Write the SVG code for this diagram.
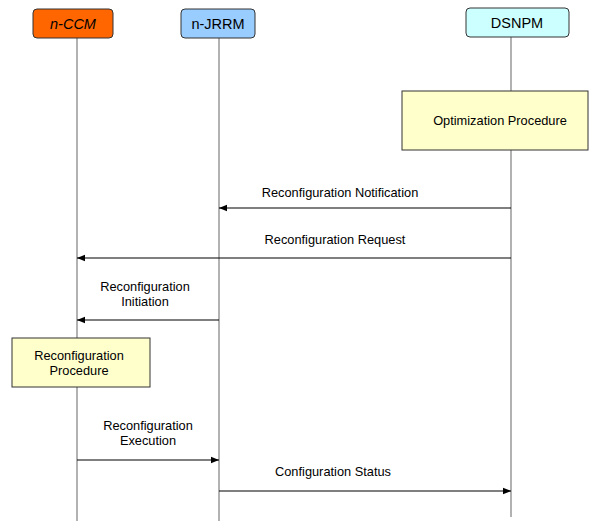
<svg xmlns="http://www.w3.org/2000/svg" width="589" height="521" viewBox="0 0 589 521">
  <style>
    .life { stroke: #7f7f7f; stroke-width: 1.2; fill: none; }
    .head { stroke: #333; stroke-width: 1; }
    .proc { fill: #ffffcc; stroke: #333; stroke-width: 1; }
    .msg { stroke: #000; stroke-width: 1.2; fill: none; }
    text { font-family: "Liberation Sans", Arial, sans-serif; fill: #000; }
    .hl { font-size: 14.5px; text-anchor: middle; }
    .lb { font-size: 12.8px; text-anchor: middle; }
  </style>
  <defs>
    <marker id="arr" viewBox="0 0 8 8" refX="8" refY="4" markerWidth="8" markerHeight="8" markerUnits="userSpaceOnUse" orient="auto">
      <path d="M0,0.8 L8,4 L0,7.2 Z" fill="#000"/>
    </marker>
  </defs>

  <!-- lifelines -->
  <g id="lifelines">
    <line class="life" x1="77" y1="38" x2="77" y2="521"/>
    <line class="life" x1="219" y1="38" x2="219" y2="521"/>
    <line class="life" x1="511" y1="37" x2="511" y2="517"/>
  </g>

  <g id="n-CCM">
    <rect class="head" x="33" y="9" width="80" height="29" rx="4" fill="#ff6600"/>
    <text class="hl" x="73" y="29" font-style="italic">n-CCM</text>
  </g>
  <g id="n-JRRM">
    <rect class="head" x="181" y="9" width="74" height="29" rx="4" fill="#99ccff"/>
    <text class="hl" x="218" y="29">n-JRRM</text>
  </g>
  <g id="DSNPM">
    <rect class="head" x="466" y="8" width="103" height="29" rx="4" fill="#ccffff"/>
    <text class="hl" x="517" y="28">DSNPM</text>
  </g>

  <g id="optimization">
    <rect class="proc" x="402" y="91" width="186" height="59"/>
    <text class="lb" x="500" y="125">Optimization Procedure</text>
  </g>
  <g id="reconfig-procedure">
    <rect class="proc" x="12" y="338" width="138" height="49"/>
    <text class="lb" x="79" y="360">Reconfiguration</text>
    <text class="lb" x="79" y="375">Procedure</text>
  </g>

  <!-- messages -->
  <g id="connectors">
    <line class="msg" x1="511" y1="208" x2="219" y2="208" marker-end="url(#arr)"/>
    <line class="msg" x1="511" y1="258" x2="77" y2="258" marker-end="url(#arr)"/>
    <line class="msg" x1="219" y1="320" x2="77" y2="320" marker-end="url(#arr)"/>
    <line class="msg" x1="77" y1="460" x2="219" y2="460" marker-end="url(#arr)"/>
    <line class="msg" x1="219" y1="491" x2="511" y2="491" marker-end="url(#arr)"/>
  </g>

  <g id="labels">
    <text class="lb" x="340" y="197">Reconfiguration Notification</text>
    <text class="lb" x="335" y="244">Reconfiguration Request</text>
    <text class="lb" x="145" y="291">Reconfiguration</text>
    <text class="lb" x="145" y="306">Initiation</text>
    <text class="lb" x="148" y="430">Reconfiguration</text>
    <text class="lb" x="148" y="445">Execution</text>
    <text class="lb" x="333" y="476">Configuration Status</text>
  </g>
</svg>
